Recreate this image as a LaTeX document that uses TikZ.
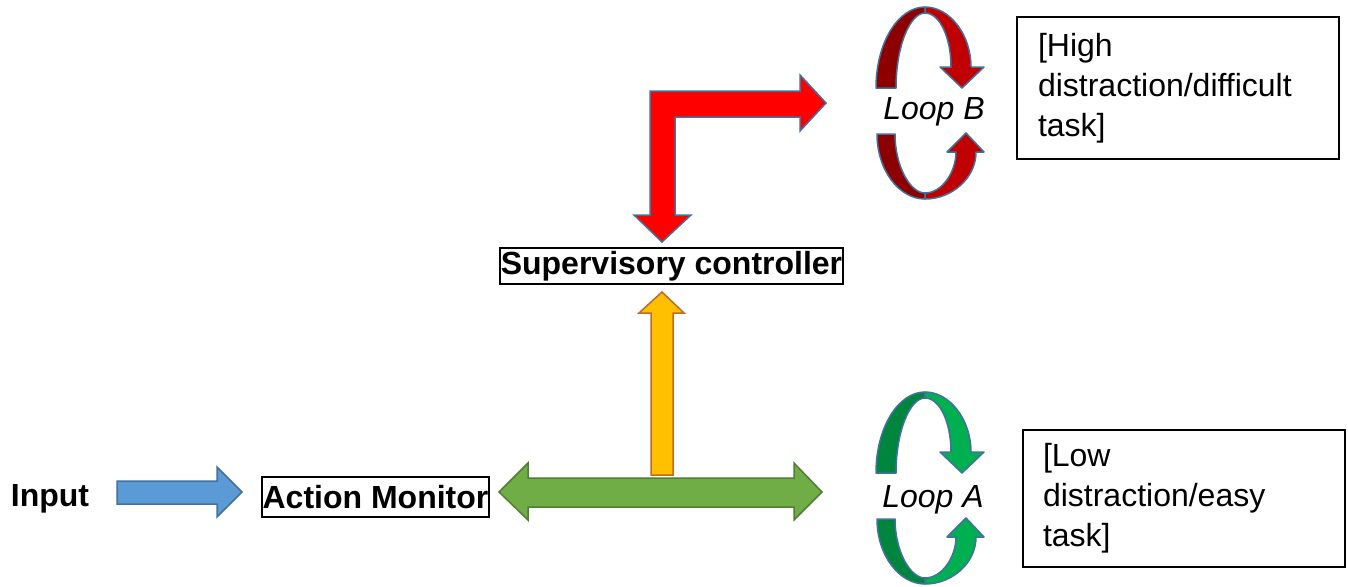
\documentclass[tikz,border=0pt]{standalone}
\usepackage{fontspec}
\setmainfont{Liberation Sans}

\definecolor{edgeblue}{RGB}{65,113,156}
\definecolor{inblue}{RGB}{91,155,213}
\definecolor{ctrlred}{RGB}{255,0,0}
\definecolor{upyellow}{RGB}{255,192,0}
\definecolor{upedge}{RGB}{188,108,36}
\definecolor{monigreen}{RGB}{112,173,71}
\definecolor{moniedge}{RGB}{80,126,50}
\definecolor{bdark}{RGB}{140,0,0}
\definecolor{blight}{RGB}{192,0,0}
\definecolor{adark}{RGB}{0,133,62}
\definecolor{alight}{RGB}{0,176,80}

% a pair of curved arrows circling a loop label
\newcommand\looppair[3]{%
  \begin{scope}[shift={(0,#1)}, looparrow]
    \filldraw[fill=#2] (876,88) .. controls (876,43) and (898,7) .. (925,7)
      -- (925,13) .. controls (910,13) and (896,46) .. (896,88) -- cycle;
    \filldraw[fill=#3] (925,7) .. controls (950,7) and (971,35) .. (971,67)
      -- (984,67) -- (962,88) -- (940,67) -- (951,67)
      .. controls (951,38) and (940,13) .. (925,13) -- cycle;
    \filldraw[fill=#2] (877,134) .. controls (877,170) and (899,199) .. (925,199)
      -- (925,193) .. controls (910,193) and (895,166) .. (895,134) -- cycle;
    \filldraw[fill=#3] (925,199) .. controls (952,199) and (976,178) .. (976,152)
      -- (984,152) -- (966,133) -- (947,152) -- (956,152)
      .. controls (956,172) and (942,193) .. (925,193) -- cycle;
  \end{scope}}

\begin{document}
\begin{tikzpicture}[x=1pt, y=-1pt,
  every node/.style={font=\fontsize{32}{40}\selectfont},
  framed/.style={draw=black, line width=1.6pt, inner sep=0pt},
  blockarrow/.style={line width=1.5pt, line join=miter},
  looparrow/.style={draw=edgeblue, line width=1.5pt, line join=round}]
\useasboundingbox (0,0) rectangle (1348,586);

% labels and boxes
\node (input) at (50,499) {\bfseries Input};
\node[framed, minimum width=227pt, minimum height=40pt] (monitor) at (375.5,497) {\bfseries Action Monitor};
\node[framed, minimum width=343pt, minimum height=36pt] (super) at (671.5,266) {\bfseries Supervisory controller};
\node[framed, minimum height=142pt, inner xsep=21pt, text width=280pt, align=left] (high) at (1178,88)
  {[High\\distraction/difficult\\task]};
\node[framed, minimum height=137pt, inner xsep=20pt, text width=282pt, align=left] (low) at (1184,498.5)
  {[Low\\distraction/easy\\task]};
\node (loopb) at (934,112) {\itshape Loop B};
\node (loopa) at (933,500) {\itshape Loop A};

% input arrow
\filldraw[blockarrow, draw=edgeblue, fill=inblue]
  (117,481) -- (217,481) -- (217,467) -- (242,492) -- (217,517) -- (217,504) -- (117,504) -- cycle;

% monitor to supervisory controller
\filldraw[blockarrow, draw=upedge, fill=upyellow]
  (651,475) -- (651,313) -- (639,313) -- (662,292) -- (684,313) -- (673,313) -- (673,475) -- cycle;

% two-headed arrow from the monitor to loop A
\filldraw[blockarrow, draw=moniedge, fill=monigreen]
  (499,492) -- (528,463) -- (528,478) -- (794,478) -- (794,463) -- (822,492)
  -- (794,520) -- (794,507) -- (528,507) -- (528,520) -- cycle;

% bent arrow between supervisory controller and loop B
\filldraw[blockarrow, draw=edgeblue, fill=ctrlred]
  (650,215) -- (634,215) -- (662,242) -- (691,215) -- (675,215) -- (675,117)
  -- (800,117) -- (800,131) -- (826,103) -- (800,75) -- (800,91) -- (650,91) -- cycle;

% loops
\looppair{0}{bdark}{blight}
\looppair{385}{adark}{alight}
\end{tikzpicture}
\end{document}
